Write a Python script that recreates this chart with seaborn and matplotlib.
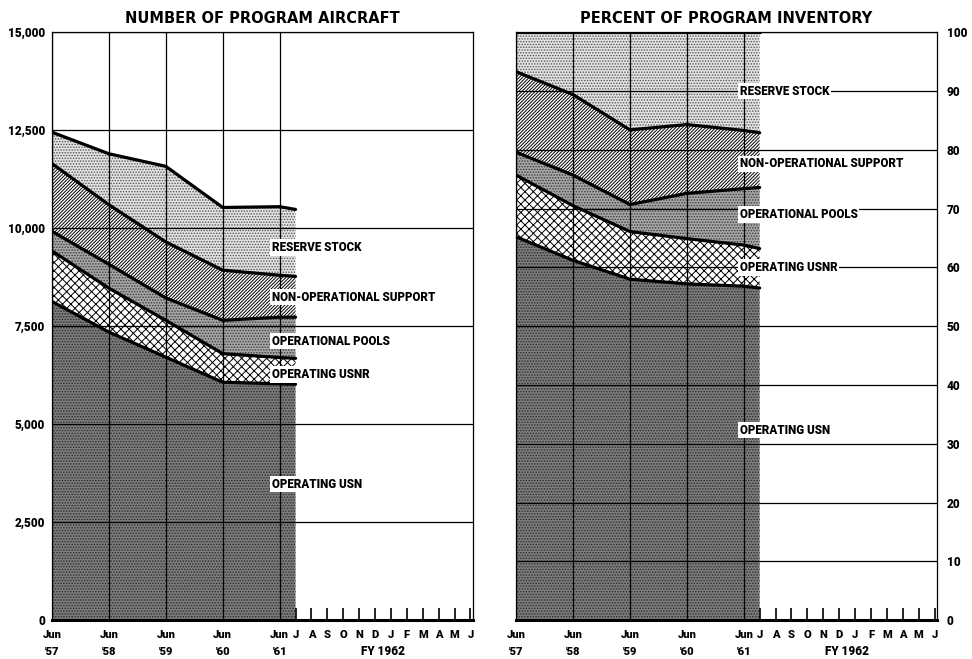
import matplotlib
matplotlib.use("Agg")
import matplotlib.pyplot as plt
import numpy as np
import pandas as pd
import seaborn as sns
from matplotlib.ticker import FixedLocator

sns.set_theme(style="white")
plt.rcParams["font.family"] = ["DejaVu Sans"]
plt.rcParams["hatch.linewidth"] = 0.7
for k in ["text.color", "axes.labelcolor", "xtick.color", "ytick.color"]:
    plt.rcParams[k] = "black"

# ---- data ----
periods = ["Jun '57", "Jun '58", "Jun '59", "Jun '60", "Jun '61", "Jul '61"]

# number of program aircraft
operating_usn = [8130, 7350, 6710, 6070, 6030, 6020]
operating_usnr = [1290, 1120, 940, 730, 670, 660]
operational_pools = [500, 610, 570, 850, 1030, 1050]
non_operational_support = [1730, 1520, 1430, 1280, 1070, 1040]
reserve_stock = [800, 1300, 1930, 1600, 1750, 1710]

# percent of program inventory
pct_operating_usn = [65.2, 61.2, 58.0, 57.2, 56.8, 56.5]
pct_operating_usnr = [10.5, 9.3, 8.1, 7.7, 7.0, 6.7]
pct_operational_pools = [3.9, 5.2, 4.6, 7.7, 9.6, 10.4]
pct_non_operational_support = [13.7, 13.7, 12.7, 11.7, 9.9, 9.3]
pct_reserve_stock = [6.7, 10.6, 16.6, 15.7, 16.7, 17.1]

categories = [
    "OPERATING USN",
    "OPERATING USNR",
    "OPERATIONAL POOLS",
    "NON-OPERATIONAL SUPPORT",
    "RESERVE STOCK",
]
year_labels = ["Jun\n'57", "Jun\n'58", "Jun\n'59", "Jun\n'60", "Jun\n'61"]
month_labels = ["J", "A", "S", "O", "N", "D", "J", "F", "M", "A", "M", "J"]
fy_label = "FY 1962"

# ---- styling ----
styles = [
    dict(facecolor="#7c7c7c", hatch="......", edgecolor="#2a2a2a"),
    dict(facecolor="white", hatch="xxxx", edgecolor="black"),
    dict(facecolor="#a6a6a6", hatch="......", edgecolor="#3a3a3a"),
    dict(facecolor="white", hatch="/" * 10, edgecolor="black"),
    dict(facecolor="#e2e2e2", hatch="......", edgecolor="#555555"),
]
MONTH_W = 0.2795  # width of one FY1962 month, in "years" of the historic part
LBL_FONT = dict(family=["Roboto", "DejaVu Sans"], fontweight="black")

dates = pd.to_datetime(periods, format="%b '%y")
months = np.array((dates.year - dates.year[0]) * 12 + dates.month - dates.month[0])


def fwd(m):
    m = np.asarray(m, dtype=float)
    return np.where(m <= 48, m / 12.0, 4 + (m - 48) * MONTH_W)


def inv(u):
    u = np.asarray(u, dtype=float)
    return np.where(u <= 4, u * 12.0, 48 + (u - 4) / MONTH_W)


def draw_panel(ax, layers, ymax, yticks, fmt, labels_at, label_x, title):
    ax.set_xscale("function", functions=(fwd, inv))
    tops = np.cumsum(np.array(layers, dtype=float), axis=0)
    bottoms = np.vstack([np.zeros(len(months)), tops[:-1]])
    for lo, hi, st in zip(bottoms, tops, styles):
        ax.fill_between(months, lo, hi, linewidth=0, zorder=1, **st)

    long = pd.DataFrame(
        {
            "month": np.tile(months, len(categories)),
            "top": tops.ravel(),
            "category": np.repeat(categories, len(months)),
        }
    )
    sns.lineplot(
        data=long, x="month", y="top", hue="category",
        palette=["black"] * len(categories), estimator=None,
        linewidth=2.3, legend=False, ax=ax, zorder=3,
    )

    ax.set_xlim(0, 60.15)
    ax.set_ylim(0, ymax)
    ax.set_xlabel("")
    ax.set_ylabel("")

    ax.xaxis.set_major_locator(FixedLocator([0, 12, 24, 36, 48]))
    ax.xaxis.set_minor_locator(FixedLocator(np.arange(49, 61)))
    ax.set_xticklabels(year_labels, **LBL_FONT, fontsize=8, linespacing=1.9,
                       va="top")
    ax.set_xticklabels(month_labels, minor=True, **LBL_FONT, fontsize=8, va="top")
    ax.tick_params(axis="x", which="major", length=0, pad=7)
    ax.tick_params(axis="x", which="minor", bottom=True, direction="in",
                   length=9, width=1.2, color="black", pad=7)
    ax.text(54.5, -0.042, fy_label, transform=ax.get_xaxis_transform(),
            ha="center", va="top", fontsize=8.5, **LBL_FONT)

    ax.set_yticks(yticks, labels=[fmt(v) for v in yticks], fontsize=8.5,
                  **LBL_FONT)
    ax.tick_params(axis="y", length=0, pad=5)

    ax.set_axisbelow(False)
    ax.grid(True, axis="y", color="black", linewidth=0.9, zorder=2)
    ax.grid(True, axis="x", which="major", color="black", linewidth=0.9, zorder=2)

    for s in ax.spines.values():
        s.set_color("black")
        s.set_linewidth(0.9)
    ax.spines["bottom"].set_linewidth(2.2)

    for name, y in zip(categories, labels_at):
        ax.text(label_x, y, name, ha="left", va="center", fontsize=8.3, zorder=5,
                bbox=dict(facecolor="white", edgecolor="none", pad=1.2), **LBL_FONT)

    ax.set_title(title, fontsize=10.5, fontweight="bold", pad=7)


fig = plt.figure(figsize=(9.72, 6.59), dpi=100)
ax1 = fig.add_axes([0.0535, 0.059, 0.433, 0.892])
ax2 = fig.add_axes([0.531, 0.059, 0.433, 0.892])

draw_panel(
    ax1,
    [operating_usn, operating_usnr, operational_pools,
     non_operational_support, reserve_stock],
    15000,
    np.arange(0, 15001, 2500),
    lambda v: f"{v:,.0f}",
    [3470, 6270, 7120, 8240, 9510],
    46.3,
    "NUMBER OF PROGRAM AIRCRAFT",
)

draw_panel(
    ax2,
    [pct_operating_usn, pct_operating_usnr, pct_operational_pools,
     pct_non_operational_support, pct_reserve_stock],
    100,
    np.arange(0, 101, 10),
    lambda v: f"{v:.0f}",
    [32.3, 60.0, 69.0, 77.6, 90.0],
    47.2,
    "PERCENT OF PROGRAM INVENTORY",
)
ax2.yaxis.tick_right()
ax2.tick_params(axis="y", right=False, length=0, pad=7)

fig.savefig("out.png", dpi=100)
